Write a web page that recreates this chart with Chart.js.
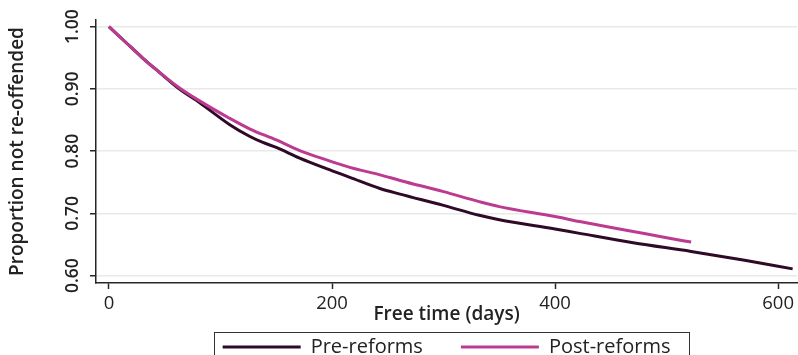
<!DOCTYPE html>
<html>
<head>
<meta charset="utf-8">
<script src="https://cdn.jsdelivr.net/npm/chart.js@4"></script>
<style>
    html, body { margin: 0; padding: 0; background: #fff; }
    #box { width: 798px; height: 355px; }
</style>
</head>
<body>
<div id="box"><canvas id="chart" width="798" height="355"></canvas></div>
<script>
let preDays = [0, 15, 30, 45, 63, 82, 108, 126, 138, 150, 171, 195, 216, 243, 261, 300, 332, 350, 400, 422, 470, 522, 570, 613]
let preSurv = [1.000, 0.975, 0.950, 0.927, 0.900, 0.877, 0.843, 0.824, 0.814, 0.806, 0.789, 0.772, 0.758, 0.740, 0.731, 0.713, 0.697, 0.690, 0.675, 0.668, 0.653, 0.639, 0.625, 0.611]
let postDays = [0, 15, 30, 45, 63, 82, 108, 126, 150, 171, 195, 216, 243, 261, 300, 332, 350, 400, 422, 470, 500, 522]
let postSurv = [1.000, 0.975, 0.950, 0.927, 0.902, 0.880, 0.853, 0.836, 0.818, 0.801, 0.786, 0.774, 0.762, 0.753, 0.735, 0.719, 0.711, 0.695, 0.687, 0.671, 0.661, 0.654]
let xTicks = [0, 200, 400, 600]
let yTicks = [0.6, 0.7, 0.8, 0.9, 1.0]

const font = 'Open Sans'
const axisColor = '#262626'
const legendTop = 299

function points(days, surv) {
    return days.map((d, i) => ({ x: d, y: surv[i] }))
}

// legend goes just under the axis title, with a frame round it
const legendFrame = {
    id: 'legendFrame',
    afterLayout(chart) {
        let lg = chart.legend
        lg.top = legendTop
        lg.bottom = legendTop + lg.height
    },
    afterDraw(chart) {
        let hb = chart.legend.legendHitBoxes
        if (!hb || hb.length == 0) return
        let last = hb[hb.length - 1]
        let ctx = chart.ctx
        ctx.save()
        ctx.strokeStyle = '#333'
        ctx.lineWidth = 1
        let left = Math.round(hb[0].left - 9) + 0.5
        let right = Math.round(last.left + last.width + 19) + 0.5
        ctx.strokeRect(left, 332.5, right - left, 40)
        ctx.restore()
    }
}

let chart = new Chart(
    document.getElementById('chart'),
    {
        type: 'line',
        data: {
            datasets: [{
                label: 'Pre-reforms',
                data: points(preDays, preSurv),
                borderColor: '#2e0a27',
                backgroundColor: '#2e0a27',
                borderWidth: 3,
                order: 1
            }, {
                label: 'Post-reforms',
                data: points(postDays, postSurv),
                borderColor: '#bd3a91',
                backgroundColor: '#bd3a91',
                borderWidth: 3,
                order: 0
            }]
        },
        options: {
            responsive: false,
            animation: false,
            elements: {
                point: { radius: 0 },
                line: { cubicInterpolationMode: 'monotone' }
            },
            layout: { padding: { top: 20, right: 0, left: 0, bottom: -26 } },
            plugins: {
                tooltip: { enabled: false },
                legend: {
                    position: 'bottom',
                    fullSize: false,
                    labels: {
                        boxWidth: 78,
                        boxHeight: 3,
                        padding: 38,
                        color: '#222',
                        font: { family: font, size: 20, weight: 500 },
                        sort: (a, b) => a.datasetIndex - b.datasetIndex,
                        generateLabels: (c) => Chart.defaults.plugins.legend.labels.generateLabels(c).map(l => ({ ...l, lineWidth: 0 }))
                    }
                }
            },
            scales: {
                x: {
                    type: 'linear',
                    min: -11.6,
                    max: 617,
                    afterBuildTicks: (s) => { s.ticks = xTicks.map(v => ({ value: v })) },
                    afterFit: (s) => { s.height = 30 },
                    grid: { drawOnChartArea: false, tickLength: 6, tickColor: axisColor, tickWidth: 1.5 },
                    border: { color: axisColor, width: 1.5 },
                    ticks: { color: '#222', padding: 4, maxRotation: 0, font: { family: font, size: 18.5, weight: 500 } },
                    title: {
                        display: true,
                        text: 'Free time (days)',
                        color: '#222',
                        font: { family: font, size: 19, weight: 600 },
                        padding: { top: 0, bottom: -13 }
                    }
                },
                y: {
                    min: 0.5883,
                    max: 1.0107,
                    afterBuildTicks: (s) => { s.ticks = yTicks.map(v => ({ value: v })) },
                    afterFit: (s) => { s.width = 96 },
                    grid: { color: '#e9e9e9', lineWidth: 1.5, tickLength: 6, tickColor: axisColor, tickWidth: 1.5 },
                    border: { color: axisColor, width: 1.5 },
                    ticks: {
                        color: '#222',
                        padding: 0,
                        minRotation: 90,
                        maxRotation: 90,
                        crossAlign: 'center',
                        font: { family: font, size: 17.5, weight: 600 },
                        callback: (v) => v.toFixed(2)
                    },
                    title: {
                        display: true,
                        text: 'Proportion not re-offended',
                        color: '#222',
                        font: { family: font, size: 19, weight: 600 },
                        padding: { top: 6, bottom: 0 }
                    }
                }
            }
        },
        plugins: [legendFrame]
    }
)
</script>
</body>
</html>
